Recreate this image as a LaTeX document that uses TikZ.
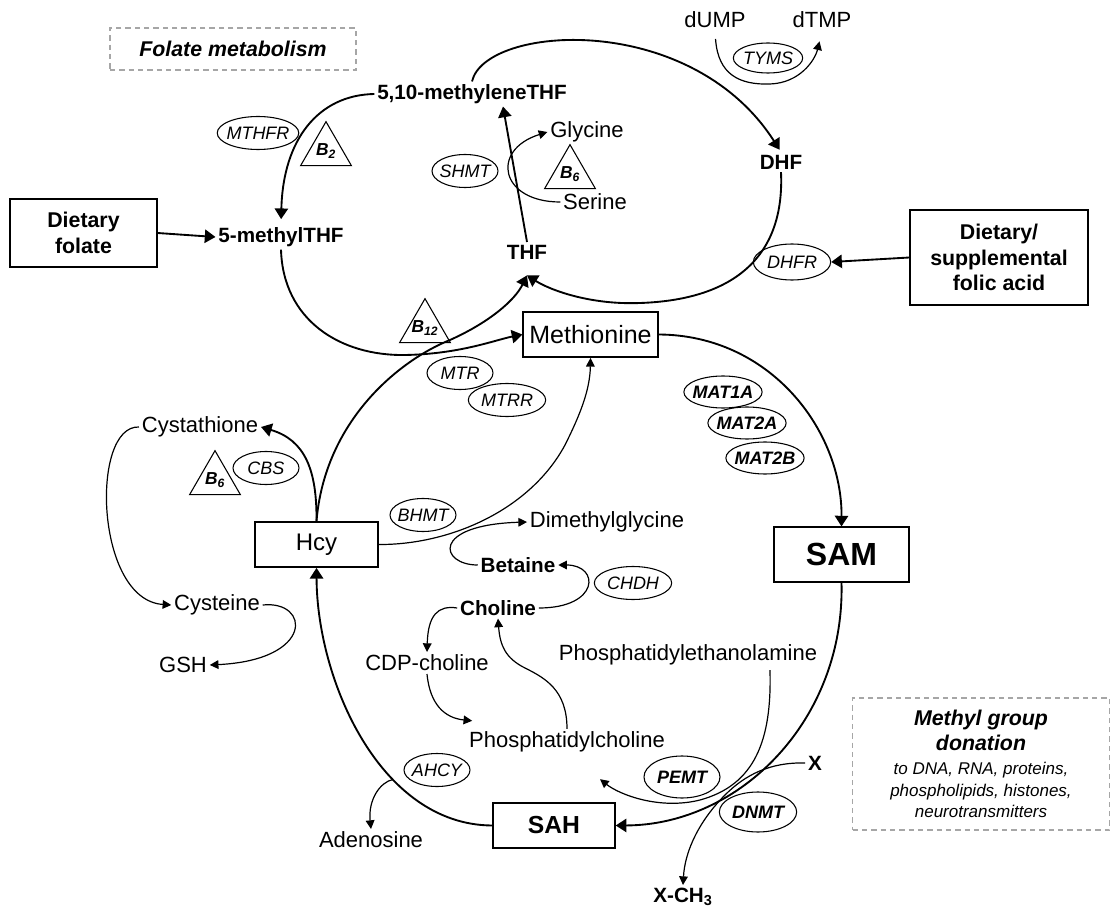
\documentclass[tikz,border=0pt]{standalone}
\usepackage{fontspec}
\setmainfont{Liberation Sans}
\usetikzlibrary{shapes.geometric, arrows.meta, positioning, calc}
\tikzstyle{metab} = [inner sep=2pt, font=\fontsize{16.5}{19}\selectfont]
\tikzstyle{keymetab} = [inner sep=2pt, font=\bfseries\fontsize{15.5}{18}\selectfont]
\tikzstyle{enzyme} = [ellipse, draw, line width=0.8pt, inner xsep=-2pt, inner ysep=0pt,
    minimum width=49.5pt, minimum height=24.75pt, font=\itshape\fontsize{13.5}{16}\selectfont]
\tikzstyle{keyenzyme} = [enzyme, font=\bfseries\itshape\fontsize{13.5}{16}\selectfont]
\tikzstyle{vitamin} = [regular polygon, regular polygon sides=3, draw, line width=0.8pt,
    inner sep=-3pt, minimum size=44pt, font=\bfseries\itshape\fontsize{13}{15}\selectfont]
\tikzstyle{pool} = [rectangle, draw, line width=1.1pt, inner sep=0pt]
\tikzstyle{source} = [rectangle, draw, line width=1.1pt, align=center,
    font=\bfseries\fontsize{16}{19}\selectfont]
\tikzstyle{note} = [rectangle, draw=gray!70, dash pattern=on 4pt off 3pt, line width=0.9pt, align=center]
\tikzstyle{mainline} = [draw, line width=1.4pt, -{Triangle[length=8pt, width=10pt]}]
\tikzstyle{sideline} = [draw, line width=0.9pt, -{Triangle[length=6.5pt, width=6.5pt]}]

\begin{document}
\begin{tikzpicture}[x=0.75pt, y=-0.75pt]
    \useasboundingbox (0,0) rectangle (1114,909);
    % Notes
    \node [note, minimum width=184.5pt, minimum height=31.5pt,
        font=\bfseries\itshape\fontsize{16}{19}\selectfont] (folnote) at (233,49) {Folate metabolism};
    \node [note, minimum width=192.75pt, minimum height=99pt,
        font=\itshape\fontsize{12.75}{16}\selectfont] (methnote) at (981,764)
        {{\bfseries\fontsize{16}{19}\selectfont Methyl group}\\[3pt]{\bfseries\fontsize{16}{19}\selectfont donation}\\[2pt]to DNA, RNA, proteins,\\phospholipids, histones,\\neurotransmitters};
    % Folate cycle
    \node [keymetab] (meth10) at (472,94) {5,10-methyleneTHF};
    \node [keymetab] (mthf) at (281,237) {5-methylTHF};
    \node [keymetab] (thf) at (527,252) {THF};
    \node [keymetab] (dhf) at (781,162) {DHF};
    \coordinate [below=10pt of thf] (thfin);
    \node [metab] (gly) at (587,132) {Glycine};
    \node [metab] (ser) at (595,202) {Serine};
    \node [metab] (dump) at (715,20) {dUMP};
    \node [metab] (dtmp) at (822,20) {dTMP};
    \node [source, minimum width=110pt, minimum height=51pt] (dfol) at (83.5,233) {Dietary\\folate};
    \node [source, minimum width=133.5pt, minimum height=71pt] (facid) at (999,257.5) {Dietary/\\supplemental\\folic acid};
    \node [enzyme] (mthfr) at (258,133) {MTHFR};
    \node [enzyme] (shmt) at (465,171) {SHMT};
    \node [enzyme, minimum width=52pt, minimum height=22.5pt] (tyms) at (768,58) {TYMS};
    \node [enzyme, minimum width=58pt, minimum height=27pt] (dhfr) at (792,262) {DHFR};
    \node [vitamin] (b2) at (326,151) {B\textsubscript{2}};
    \node [vitamin] (b6a) at (570,174) {B\textsubscript{6}};
    \node [vitamin] (b12) at (425,328) {B\textsubscript{12}};
    % Methionine cycle
    \node [pool, minimum width=101pt, minimum height=34pt, font=\fontsize{18.75}{22}\selectfont] (met) at (590.5,334.5) {Methionine};
    \node [pool, minimum width=101pt, minimum height=41pt, font=\bfseries\fontsize{24}{28}\selectfont] (sam) at (841.5,554.5) {SAM};
    \node [pool, minimum width=91.5pt, minimum height=34pt, font=\bfseries\fontsize{18.5}{22}\selectfont] (sah) at (554,825.5) {SAH};
    \node [pool, minimum width=92pt, minimum height=34pt, font=\fontsize{18}{21}\selectfont] (hcy) at (316.5,544.5) {Hcy};
    \node [enzyme] (mtr) at (460,373) {MTR};
    \node [enzyme, minimum width=58pt] (mtrr) at (507,400) {MTRR};
    \node [keyenzyme, minimum height=24pt] (mat1a) at (723,392) {MAT1A};
    \node [keyenzyme, minimum height=24pt] (mat2a) at (747,423) {MAT2A};
    \node [keyenzyme, minimum height=24pt] (mat2b) at (765,458) {MAT2B};
    \node [metab] (cyst) at (200,427) {Cystathione};
    \node [metab] (cys) at (217,605) {Cysteine};
    \node [metab] (gsh) at (183,665) {GSH};
    \node [enzyme] (cbs) at (266,468) {CBS};
    \node [vitamin] (b6b) at (215,480) {B\textsubscript{6}};
    \node [enzyme] (bhmt) at (423,515) {BHMT};
    \node [metab] (dmg) at (607,522) {Dimethylglycine};
    \node [keymetab] (bet) at (518,565) {Betaine};
    \node [keymetab] (chol) at (498,608) {Choline};
    \node [enzyme, minimum width=58pt] (chdh) at (633,583) {CHDH};
    \node [metab] (cdp) at (427,663) {CDP-choline};
    \node [metab] (pe) at (688,655) {Phosphatidylethanolamine};
    \node [metab] (pc) at (567,742) {Phosphatidylcholine};
    \node [enzyme] (ahcy) at (437,770) {AHCY};
    \node [keyenzyme, minimum width=57pt, minimum height=31.5pt] (pemt) at (682,777) {PEMT};
    \node [keyenzyme, minimum width=58pt, minimum height=30pt] (dnmt) at (758,812) {DNMT};
    \node [keymetab] (xin) at (815,763) {X};
    \node [keymetab] (xch3) at (683,897) {X-CH\textsubscript{3}};
    \node [metab] (ade) at (371,840) {Adenosine};
    % Edges
    \path [mainline, shorten >=4pt] (meth10.west) .. controls (318,95) and (283,140) .. (mthf.north);
    \path [mainline] (dfol.east) -- (mthf.west);
    \path [mainline] (mthf.south) .. controls (283,320) and (340,356) .. (405,355)
        .. controls (460,354) and (495,340) .. (met.west);
    \path [mainline] (hcy.north) .. controls (325,420) and (400,360) .. (450,340)
        .. controls (490,322) and (515,300) .. (thfin);
    \path [mainline] (dhf.south) .. controls (785,260) and (730,300) .. (640,303)
        .. controls (590,305) and (550,290) .. (thfin);
    \path [mainline, shorten >=2pt] (meth10.north) .. controls (485,25) and (690,10) .. (dhf.north);
    \path [mainline] (thf.north) -- ($(meth10.south)+(31,0)$);
    \path [sideline] (ser.west) .. controls (500,202) and (490,150) .. (gly.west);
    \path [sideline, shorten <=6pt, shorten >=8pt] (dump.south) .. controls (718,75) and (740,85) .. (770,84)
        .. controls (800,83) and (815,60) .. (dtmp.south);
    \path [mainline] (facid.west) -- (dhfr.east);
    \path [mainline] (met.east) .. controls (770,335) and (842,430) .. (sam.north);
    \path [mainline] (sam.south) .. controls (845,720) and (740,825) .. (sah.east);
    \path [mainline] (sah.west) .. controls (380,825) and (317,680) .. coordinate[pos=0.35] (ahcyout) (hcy.south);
    \path [mainline] (hcy.north) .. controls (317,470) and (305,440) .. (cyst.east);
    \path [sideline] (cyst.west) .. controls (90,425) and (95,600) .. (cys.west);
    \path [sideline] (cys.east) .. controls (310,600) and (315,660) .. (gsh.east);
    \path [sideline] (hcy.east) .. controls (450,545) and (530,510) .. (565,445)
        .. controls (580,415) and (590,390) .. (met.south);
    \path [sideline] (bet.west) .. controls (440,565) and (430,525) .. (dmg.west);
    \path [sideline] (chol.east) .. controls (600,608) and (600,565) .. (bet.east);
    \path [sideline] (chol.west) .. controls (438,605) and (428,615) .. (cdp.north);
    \path [sideline] (cdp.south) .. controls (430,705) and (445,718) .. ($(pc.north west)+(6,-8)$);
    \path [sideline] (pc.north) .. controls (567,690) and (545,678) .. (525,668)
        .. controls (505,658) and (500,645) .. (chol.south);
    \path [sideline] ($(pe.south east)+(-50,2)$) .. controls (772,740) and (755,785) .. (700,800)
        .. controls (660,810) and (620,795) .. ($(pc.south)+(33,24)$);
    \path [sideline] (xin.west) .. controls (770,762) and (745,775) .. (725,795)
        .. controls (700,820) and (685,850) .. (xch3.north);
    \path [sideline] (ahcyout) .. controls (380,782) and (368,800) .. (ade.north);
\end{tikzpicture}
\end{document}
